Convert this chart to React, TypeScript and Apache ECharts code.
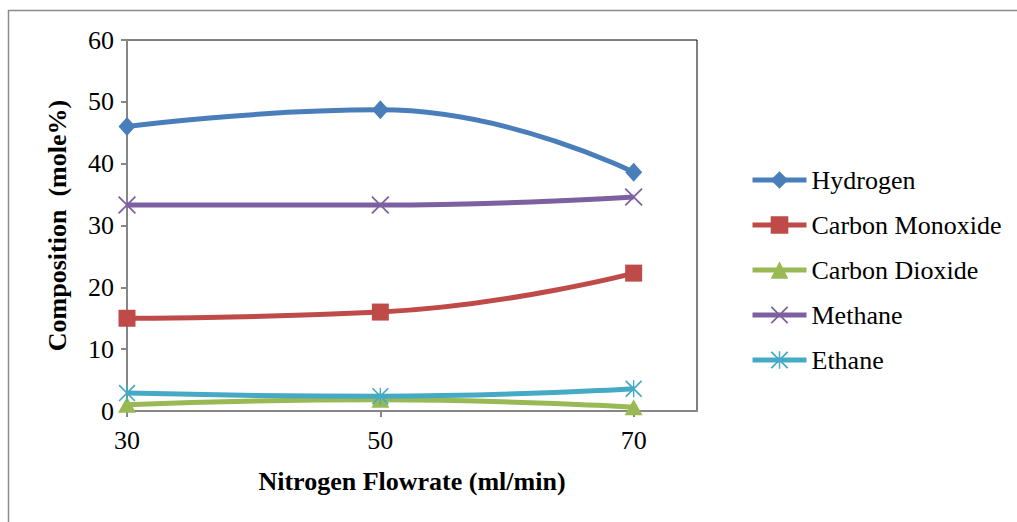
import React, { useEffect, useRef } from "react";
import * as echarts from "echarts";

const xValues = [30, 50, 70];
const xTickLabels = [30, 50, 70];
const seriesNames = ["Hydrogen", "Carbon Monoxide", "Carbon Dioxide", "Methane", "Ethane"];
const hydrogen = [46.0, 48.7, 38.6];
const carbonMonoxide = [15.0, 16.0, 22.3];
const carbonDioxide = [1.0, 1.8, 0.6];
const methane = [33.3, 33.3, 34.6];
const ethane = [2.9, 2.4, 3.6];

const FONT = "'Liberation Serif', 'Times New Roman', serif";

const X_PATH =
  "path://M0,1.4 L1.4,0 L20,18.6 L18.6,20 Z M18.6,0 L20,1.4 L1.4,20 L0,18.6 Z";
const STAR_PATH =
  "path://M0,1.4 L1.4,0 L20,18.6 L18.6,20 Z M18.6,0 L20,1.4 L1.4,20 L0,18.6 Z M9.2,0 L10.8,0 L10.8,20 L9.2,20 Z";

export default function App() {
  const ref = useRef<HTMLDivElement>(null);
  useEffect(() => {
    if (!ref.current) return;
    const chart = echarts.init(ref.current, null, { renderer: "svg" });
    const values = [hydrogen, carbonMonoxide, carbonDioxide, methane, ethane];
    const colors = ["#4A7EBB", "#BE4B48", "#98B954", "#7D60A0", "#46AAC5"];
    const symbols: any[] = ["diamond", "rect", "triangle", X_PATH, STAR_PATH];
    const sizes: any[] = [[17, 19], 17, [18, 16], 18, 17];
    const series = values.map((arr, i) => ({
      name: seriesNames[i],
      type: "line",
      smooth: 0.5,
      data: xValues.map((x, j) => [x, arr[j]]),
      symbol: symbols[i],
      symbolSize: sizes[i],
      showSymbol: true,
      lineStyle: { color: colors[i], width: 5 },
      itemStyle: { color: colors[i] },
      z: 2 + i,
    }));
    chart.setOption({
      animation: false,
      backgroundColor: "#ffffff",
      textStyle: { fontFamily: FONT },
      grid: {
        left: 127,
        top: 40,
        right: 320,
        bottom: 111,
        show: true,
        borderColor: "#000000",
        borderWidth: 1,
        backgroundColor: "transparent",
      },
      legend: {
        orient: "vertical",
        left: 750,
        top: 167,
        padding: 0,
        itemWidth: 54,
        itemHeight: 22,
        itemGap: 19,
        lineStyle: { width: 5 },
        textStyle: { fontFamily: FONT, fontSize: 26, color: "#000" },
        data: seriesNames,
      },
      xAxis: {
        type: "value",
        min: 30,
        max: 75,
        interval: 20,
        name: "Nitrogen Flowrate (ml/min)",
        nameLocation: "middle",
        nameGap: 57,
        nameTextStyle: { fontFamily: FONT, fontSize: 26, fontWeight: "bold", color: "#000" },
        axisLine: { show: true, onZero: false, lineStyle: { color: "#868686", width: 2 } },
        axisTick: {
          show: true,
          length: 6,
          inside: false,
          customValues: xTickLabels,
          lineStyle: { color: "#868686", width: 2 },
        },
        axisLabel: {
          customValues: xTickLabels,
          fontFamily: FONT,
          fontSize: 26,
          color: "#000",
          margin: 16,
        },
        splitLine: { show: false },
      },
      yAxis: {
        type: "value",
        min: 0,
        max: 60,
        interval: 10,
        name: "Composition  (mole%)",
        nameLocation: "middle",
        nameGap: 57,
        nameTextStyle: { fontFamily: FONT, fontSize: 26, fontWeight: "bold", color: "#000" },
        axisLine: { show: true, lineStyle: { color: "#868686", width: 2 } },
        axisTick: { show: true, length: 6, inside: false, lineStyle: { color: "#868686", width: 2 } },
        axisLabel: { fontFamily: FONT, fontSize: 26, color: "#000", margin: 13 },
        splitLine: { show: false },
      },
      graphic: [
        {
          type: "line",
          shape: { x1: 8, y1: 10.5, x2: 1017, y2: 10.5 },
          style: { stroke: "#8a8a8a", lineWidth: 1.5 },
          silent: true,
        },
        {
          type: "line",
          shape: { x1: 8.5, y1: 10, x2: 8.5, y2: 522 },
          style: { stroke: "#8a8a8a", lineWidth: 1.5 },
          silent: true,
        },
      ],
      series,
    });
    return () => chart.dispose();
  }, []);
  return (
    <div
      ref={ref}
      style={{ position: "fixed", left: 0, top: 0, width: 1017, height: 522, background: "#fff" }}
    />
  );
}
